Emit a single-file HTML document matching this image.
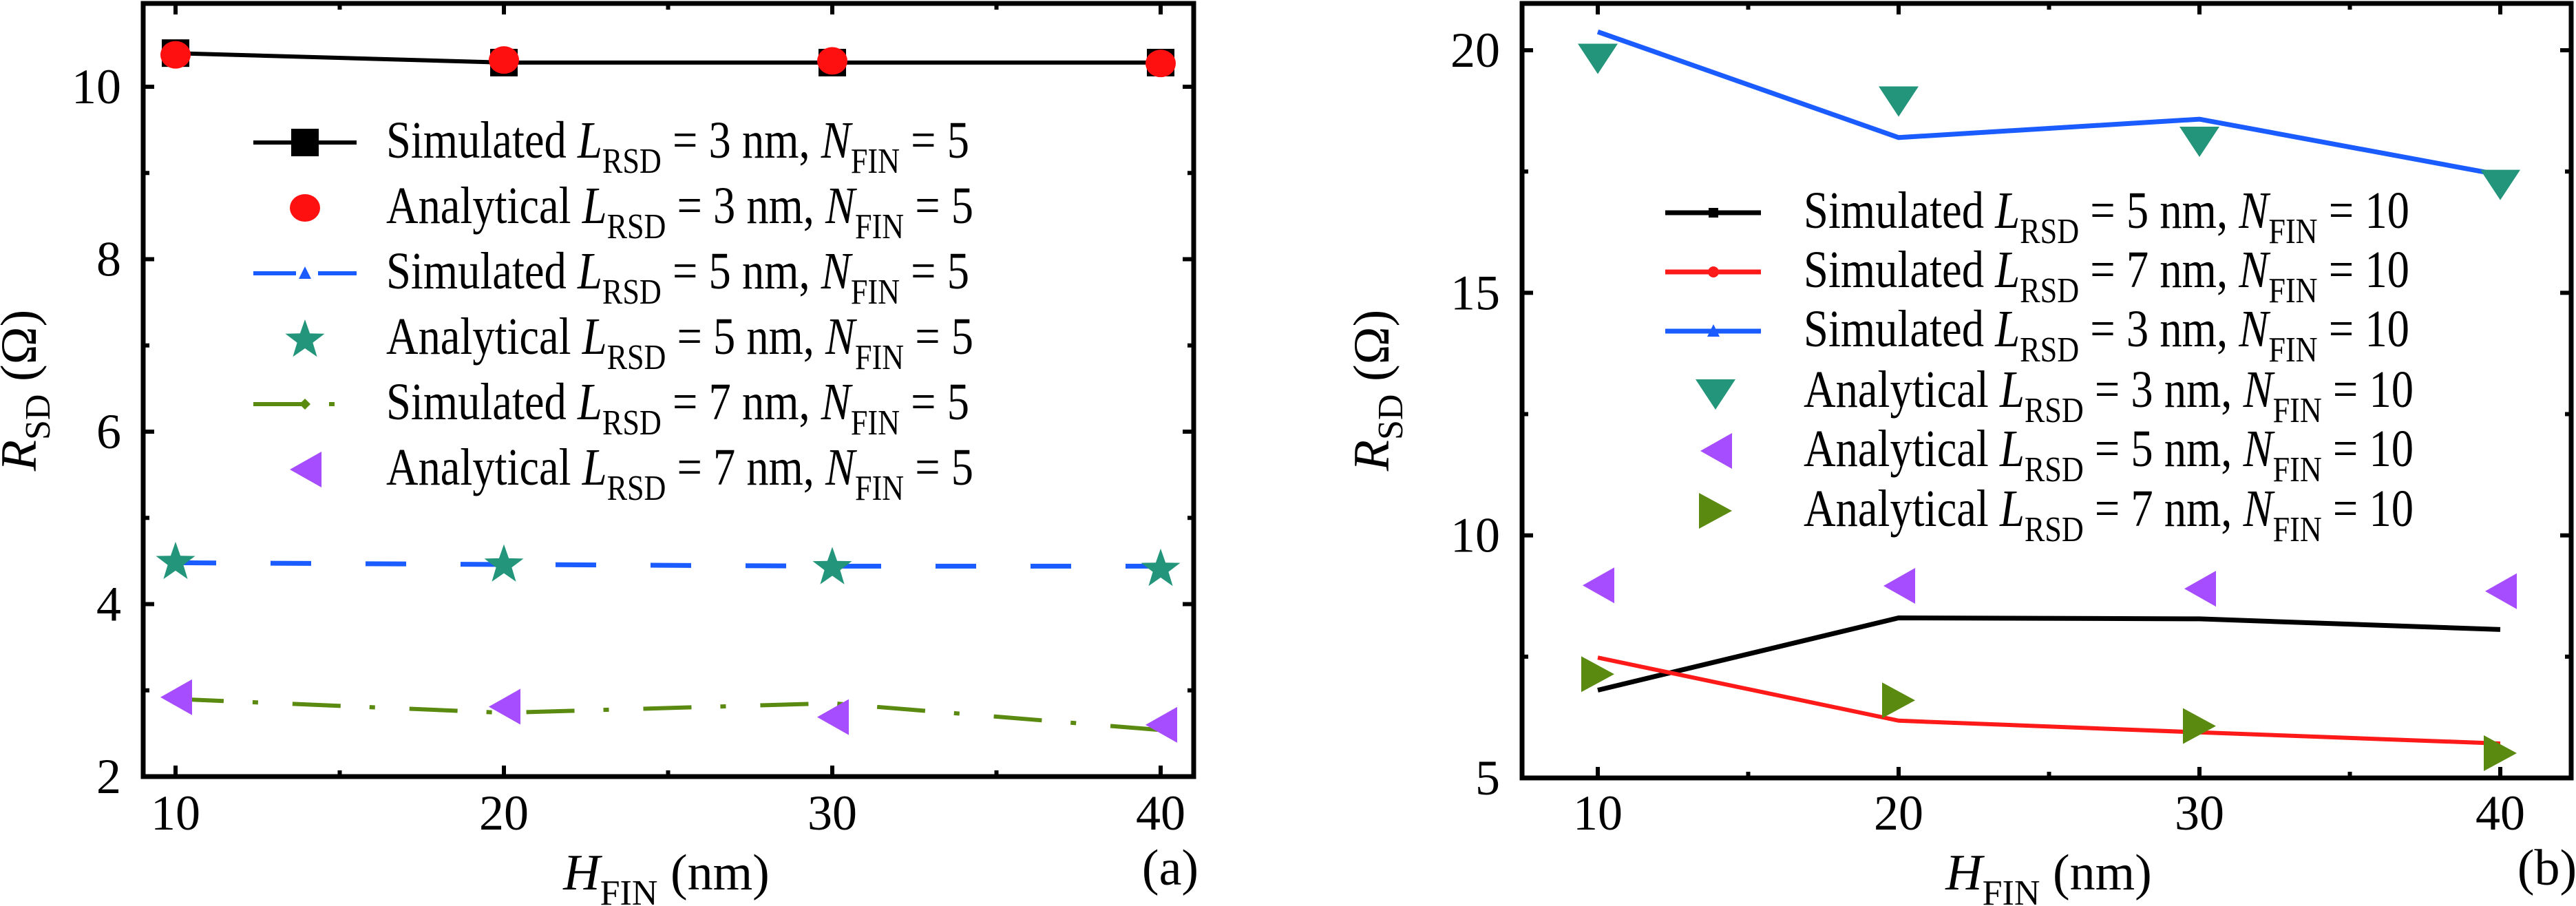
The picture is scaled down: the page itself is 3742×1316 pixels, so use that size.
<!DOCTYPE html>
<html><head><meta charset="utf-8"><style>
html,body{margin:0;padding:0;background:#fff}
svg{display:block;font-family:"Liberation Serif",serif}
svg text{font-family:"Liberation Serif",serif;fill:#000}
</style></head><body>
<svg id="fig" width="3742" height="1316" viewBox="0 0 3742 1316" xmlns="http://www.w3.org/2000/svg">
<rect width="3742" height="1316" fill="#fff"/>
<g id="pa"></g>
<g id="pb"></g>
</svg>
<script>
// ---- Panel (a) data ----
const xCatsA = [10, 20, 30, 40];
const simL3A = [10.39, 10.28, 10.28, 10.28];
const anaL3A = [10.37, 10.31, 10.30, 10.27];
const simL5A = [4.48, 4.46, 4.44, 4.44];
const anaL5A = [4.5, 4.47, 4.44, 4.42];
const simL7A = [2.9, 2.74, 2.85, 2.54];
const anaL7A = [2.92, 2.81, 2.69, 2.6];
const yTicksA = [2, 4, 6, 8, 10];
const xTicks = [10, 20, 30, 40];
// ---- Panel (b) data ----
const xCatsB = [10, 20, 30, 40];
const simL5B = [6.81, 8.3, 8.28, 8.06];
const simL7B = [7.48, 6.18, 5.94, 5.71];
const simL3B = [20.38, 18.2, 18.58, 17.43];
const anaL3B = [19.88, 19.0, 18.17, 17.28];
const anaL5B = [8.97, 8.96, 8.9, 8.85];
const anaL7B = [7.14, 6.6, 6.07, 5.51];
const yTicksB = [5, 10, 15, 20];

const NS = "http://www.w3.org/2000/svg";
function el(parent, tag, attrs) {
  const e = document.createElementNS(NS, tag);
  for (const k in attrs) e.setAttribute(k, attrs[k]);
  parent.appendChild(e);
  return e;
}
function mkScale(d0, d1, r0, r1) { return v => r0 + (v - d0) * (r1 - r0) / (d1 - d0); }

function marker(g, type, cx, cy, color) {
  let m;
  if (type === 'square') {
    m = el(g, 'rect', {x: cx - 20, y: cy - 20, width: 40, height: 40, fill: color});
  } else if (type === 'circle') {
    m = el(g, 'ellipse', {cx: cx, cy: cy, rx: 22, ry: 20, fill: color});
  } else if (type === 'star') {
    let pts = [];
    for (let i = 0; i < 10; i++) {
      const r = i % 2 === 0 ? 30 : 12;
      const a = -Math.PI / 2 + i * Math.PI / 5;
      pts.push((cx + r * Math.cos(a)).toFixed(1) + ',' + (cy + 2 + r * Math.sin(a)).toFixed(1));
    }
    m = el(g, 'polygon', {points: pts.join(' '), fill: color});
  } else if (type === 'left') {
    m = el(g, 'polygon', {points: `${cx-22},${cy} ${cx+24},${cy-26} ${cx+24},${cy+26}`, fill: color});
  } else if (type === 'right') {
    m = el(g, 'polygon', {points: `${cx+24},${cy} ${cx-24},${cy-26} ${cx-24},${cy+26}`, fill: color});
  } else if (type === 'down') {
    m = el(g, 'polygon', {points: `${cx-29},${cy-18} ${cx+29},${cy-18} ${cx},${cy+26}`, fill: color});
  } else if (type === 'smallsq') {
    m = el(g, 'rect', {x: cx - 7, y: cy - 7, width: 14, height: 14, fill: color});
  } else if (type === 'smalldot') {
    m = el(g, 'circle', {cx: cx, cy: cy, r: 8, fill: color});
  } else if (type === 'smalltri') {
    m = el(g, 'polygon', {points: `${cx-9},${cy+8} ${cx+9},${cy+8} ${cx},${cy-10}`, fill: color});
  } else if (type === 'smalldiamond') {
    m = el(g, 'polygon', {points: `${cx-8},${cy} ${cx},${cy-8} ${cx+8},${cy} ${cx},${cy+8}`, fill: color});
  }
  return m;
}

function legendText(g, x, y, kind, L, N, len) {
  const t = el(g, 'text', {x: x, y: y, 'font-size': 76, textLength: len, lengthAdjust: 'spacingAndGlyphs'});
  t.innerHTML = kind + ' <tspan font-style="italic">L</tspan><tspan font-size="52" dy="22">RSD</tspan><tspan dy="-22"> = ' + L +
    ' nm, </tspan><tspan font-style="italic">N</tspan><tspan font-size="52" dy="22">FIN</tspan><tspan dy="-22"> = ' + N + '</tspan>';
  return t;
}

function axes(g, P, sx, sy, yTicks, yMinor, xMinor) {
  const tg = el(g, 'g', {stroke: '#000', 'stroke-width': 6});
  
  
  xTicks.forEach(v => {
    const x = sx(v);
    el(tg, 'line', {x1: x, y1: P.b, x2: x, y2: P.b - 16});
    el(tg, 'line', {x1: x, y1: P.t, x2: x, y2: P.t + 16});
    const lab = el(g, 'text', {x: x, y: 1205, 'font-size': 72, 'text-anchor': 'middle'});
    
    
    lab.textContent = v;
  });
  xMinor.forEach(v => {
    const x = sx(v);
    el(tg, 'line', {x1: x, y1: P.b, x2: x, y2: P.b - 9});
    el(tg, 'line', {x1: x, y1: P.t, x2: x, y2: P.t + 9});
  });
  yTicks.forEach(v => {
    const y = sy(v);
    el(tg, 'line', {x1: P.l, y1: y, x2: P.l + 16, y2: y});
    el(tg, 'line', {x1: P.r, y1: y, x2: P.r - 16, y2: y});
    const lab = el(g, 'text', {x: P.l - 32, y: y + 24, 'font-size': 72, 'text-anchor': 'end'});
    
    
    lab.textContent = v;
  });
  yMinor.forEach(v => {
    const y = sy(v);
    el(tg, 'line', {x1: P.l, y1: y, x2: P.l + 9, y2: y});
    el(tg, 'line', {x1: P.r, y1: y, x2: P.r - 9, y2: y});
  });
  const fr = el(g, 'rect', {x: P.l, y: P.t, width: P.r - P.l, height: P.b - P.t, fill: 'none', stroke: '#000', 'stroke-width': 7});
  
  
}

function series(g, name, xs, ys, sx, sy, opts) {
  const sg = el(g, 'g', {});
  
  
  if (opts.line) {
    const pts = xs.map((x, i) => sx(x).toFixed(1) + ',' + sy(ys[i]).toFixed(1)).join(' ');
    const a = {points: pts, fill: 'none', stroke: opts.color, 'stroke-width': opts.w || 7};
    if (opts.dash) a['stroke-dasharray'] = opts.dash;
    const pl = el(sg, 'polyline', a);
    
    
  }
  if (opts.marker) {
    xs.forEach((x, i) => {
      const m = marker(sg, opts.marker, sx(x), sy(ys[i]), opts.mcolor || opts.color);
      
      
    });
  }
}

function titles(g, suffix, ytx, xtx, labx, labText) {
  const yt = el(g, 'text', {x: 0, y: 0, 'font-size': 74, transform: 'translate(' + ytx + ',567) rotate(-90)', 'text-anchor': 'middle'});
  
  
  yt.innerHTML = '<tspan font-style="italic">R</tspan><tspan font-size="52" dy="20">SD</tspan><tspan dy="-20"> (Ω)</tspan>';
  const xt = el(g, 'text', {x: xtx, y: 1292, 'font-size': 74, 'text-anchor': 'middle'});
  
  
  xt.innerHTML = '<tspan font-style="italic">H</tspan><tspan font-size="52" dy="22">FIN</tspan><tspan dy="-22"> (nm)</tspan>';
  const lab = el(g, 'text', {x: labx, y: 1285, 'font-size': 74, 'text-anchor': 'middle'});
  
  
  lab.textContent = labText;
}

// ---------- Panel A ----------
(function () {
  const g = document.getElementById('pa');
  const P = {l: 208, r: 1734, t: 5, b: 1128};
  const sx = mkScale(10, 40, 255, 1686);
  const sy = mkScale(2, 10, 1128, 126);
  axes(g, P, sx, sy, yTicksA, [3, 5, 7, 9], [15, 25, 35]);
  series(g, 'series-sim-l3', xCatsA, simL3A, sx, sy, {line: true, color: '#000', marker: 'square', w: 6});
  series(g, 'series-ana-l3', xCatsA, anaL3A, sx, sy, {color: '#ff1010', marker: 'circle'});
  series(g, 'series-sim-l5', xCatsA, simL5A, sx, sy, {line: true, color: '#1a5cff', dash: '59 79'});
  series(g, 'series-ana-l5', xCatsA, anaL5A, sx, sy, {color: '#23957a', marker: 'star'});
  series(g, 'series-sim-l7', xCatsA, simL7A, sx, sy, {line: true, color: '#5a8a10', dash: '70 42 8 50', w: 6});
  series(g, 'series-ana-l7', xCatsA, anaL7A, sx, sy, {color: '#a64dff', marker: 'left'});

  const lg = el(g, 'g', {});
  
  
  const rows = [
    ['Simulated', 3, '#000', 'square', 'solid'],
    ['Analytical', 3, '#ff1010', 'circle', null],
    ['Simulated', 5, '#1a5cff', 'smalltri', 'dash'],
    ['Analytical', 5, '#23957a', 'star', null],
    ['Simulated', 7, '#5a8a10', 'smalldiamond', 'dashdot'],
    ['Analytical', 7, '#a64dff', 'left', null]
  ];
  rows.forEach((r, i) => {
    const cy = 207 + i * 95;
    const eg = el(lg, 'g', {});
    
    
    if (r[4] === 'solid') el(eg, 'line', {x1: 368, y1: cy, x2: 518, y2: cy, stroke: r[2], 'stroke-width': 6});
    if (r[4] === 'dash') el(eg, 'line', {x1: 368, y1: cy, x2: 518, y2: cy, stroke: r[2], 'stroke-width': 6, 'stroke-dasharray': '62 32'});
    if (r[4] === 'dashdot') el(eg, 'line', {x1: 368, y1: cy, x2: 518, y2: cy, stroke: r[2], 'stroke-width': 6, 'stroke-dasharray': '80 30 8 40'});
    marker(eg, r[3], 443, cy, r[2]);
    legendText(eg, 561, cy + 22, r[0], r[1], 5, r[0] === 'Simulated' ? 847 : 853);
  });
  titles(g, 'a', 52, 968, 1700, '(a)');
})();

// ---------- Panel B ----------
(function () {
  const g = document.getElementById('pb');
  const P = {l: 2211, r: 3735, t: 5, b: 1130};
  const sx = mkScale(10, 40, 2321, 3632);
  const sy = mkScale(5, 20, 1130, 73);
  axes(g, P, sx, sy, yTicksB, [7.5, 12.5, 17.5], [15, 25, 35]);
  series(g, 'series-sim-l5', xCatsB, simL5B, sx, sy, {line: true, color: '#000'});
  series(g, 'series-sim-l7', xCatsB, simL7B, sx, sy, {line: true, color: '#ff1a1a', w: 6});
  series(g, 'series-sim-l3', xCatsB, simL3B, sx, sy, {line: true, color: '#1a5cff'});
  series(g, 'series-ana-l3', xCatsB, anaL3B, sx, sy, {color: '#23957a', marker: 'down'});
  series(g, 'series-ana-l5', xCatsB, anaL5B, sx, sy, {color: '#a64dff', marker: 'left'});
  series(g, 'series-ana-l7', xCatsB, anaL7B, sx, sy, {color: '#5a8a10', marker: 'right'});

  const lg = el(g, 'g', {});
  
  
  const rows = [
    ['Simulated', 5, '#000', 'smallsq', true],
    ['Simulated', 7, '#ff1a1a', 'smalldot', true],
    ['Simulated', 3, '#1a5cff', 'smalltri', true],
    ['Analytical', 3, '#23957a', 'down', false],
    ['Analytical', 5, '#a64dff', 'left', false],
    ['Analytical', 7, '#5a8a10', 'right', false]
  ];
  const ys = [309, 395, 481, 569, 655, 742];
  rows.forEach((r, i) => {
    const cy = ys[i];
    const eg = el(lg, 'g', {});
    
    
    if (r[4]) el(eg, 'line', {x1: 2419, y1: cy, x2: 2558, y2: cy, stroke: r[2], 'stroke-width': 7});
    marker(eg, r[3], r[4] ? 2489 : 2492, cy, r[2]);
    legendText(eg, 2620, cy + 22, r[0], r[1], 10, r[0] === 'Simulated' ? 880 : 886);
  });
  titles(g, 'b', 2017, 2976, 3700, '(b)');
})();
</script>
</body></html>
